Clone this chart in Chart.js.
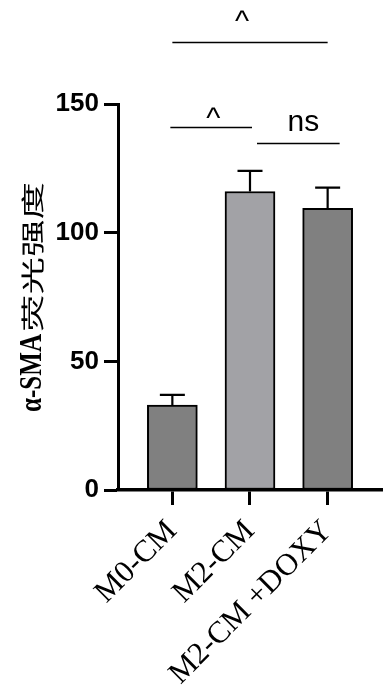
<!DOCTYPE html>
<html>
<head>
<meta charset="utf-8">
<script src="https://cdn.jsdelivr.net/npm/chart.js@4/dist/chart.umd.min.js"></script>
<style>
html,body{margin:0;padding:0;background:#fff;}
#wrap{width:386px;height:697px;position:relative;}
</style>
</head>
<body>
<div id="wrap"><canvas id="c" width="386" height="697"></canvas></div>
<script>
// ---- data ----
const categories = ['M0-CM', 'M2-CM', 'M2-CM +DOXY'];
const means = [33, 116, 109.5];
const errors = [4, 8, 8];
const yTicks = [0, 50, 100, 150];
const comparisons = [
  { from: 0, to: 1, label: '^' },
  { from: 1, to: 2, label: 'ns' },
  { from: 0, to: 2, label: '^' }
];
const bracketLevels = [141, 135, 174];
const yTitleLatin = 'α-SMA';
const yTitleCJK = '荧光强度';

// ---- styles ----
const barColors = ['#808080', '#a2a2a6', '#808080'];
const bracketNudge = [
  { x0: -2, x1: 2, tx: 2, ty: 0 },
  { x0: 7, x1: 12, tx: 5, ty: -13 },
  { x0: 0, x1: 0, tx: -8, ty: -12 }
];

const errorBarPlugin = {
  id: 'errorBars',
  afterDatasetsDraw(chart) {
    const ctx = chart.ctx, xs = chart.scales.x, ys = chart.scales.y;
    ctx.save();
    ctx.strokeStyle = '#000';
    ctx.lineWidth = 2.2;
    means.forEach((m, i) => {
      const x = xs.getPixelForValue(i);
      const yTop = ys.getPixelForValue(m + errors[i]);
      const yBar = ys.getPixelForValue(m);
      ctx.beginPath();
      ctx.moveTo(x, yBar); ctx.lineTo(x, yTop);
      ctx.moveTo(x - 12.5, yTop); ctx.lineTo(x + 12.5, yTop);
      ctx.stroke();
    });
    ctx.restore();
  }
};

const annotPlugin = {
  id: 'annot',
  afterDraw(chart) {
    const ctx = chart.ctx, xs = chart.scales.x, ys = chart.scales.y;
    ctx.save();
    comparisons.forEach((c, i) => {
      const n = bracketNudge[i];
      const x0 = xs.getPixelForValue(c.from) + n.x0;
      const x1 = xs.getPixelForValue(c.to) + n.x1;
      const y = Math.round(ys.getPixelForValue(bracketLevels[i])) + 0.5;
      ctx.strokeStyle = '#000';
      ctx.lineWidth = 1.6;
      ctx.beginPath(); ctx.moveTo(x0, y); ctx.lineTo(x1, y); ctx.stroke();
      ctx.fillStyle = '#000';
      ctx.font = '30px "Liberation Sans", Arial, sans-serif';
      ctx.textAlign = 'center';
      ctx.textBaseline = 'alphabetic';
      ctx.fillText(c.label, (x0 + x1) / 2 + n.tx, y + n.ty);
    });
    ctx.restore();

    // y title (stretched like the reference)
    ctx.save();
    const ca = chart.chartArea;
    const cy = (ca.top + ca.bottom) / 2;
    const f1 = 'bold 31px "Liberation Serif", "Times New Roman", serif';
    const f2 = '23px "Noto Sans CJK SC", sans-serif';
    const latinLen = 78, cjkLen = 152;
    ctx.fillStyle = '#000';
    ctx.translate(32, cy);
    ctx.rotate(-Math.PI / 2);
    ctx.textAlign = 'left';
    ctx.textBaseline = 'middle';
    const start = -(latinLen + cjkLen) / 2;
    ctx.font = f1; const w1 = ctx.measureText(yTitleLatin).width;
    ctx.save(); ctx.translate(start, 1); ctx.scale(latinLen / w1, 1); ctx.fillText(yTitleLatin, 0, 0); ctx.restore();
    ctx.font = f2; const w2 = ctx.measureText(yTitleCJK).width;
    ctx.save(); ctx.translate(start + latinLen + 2, 0); ctx.scale((cjkLen - 2) / w2, 1); ctx.fillText(yTitleCJK, 0, 0); ctx.restore();
    ctx.restore();
  }
};

new Chart(document.getElementById('c'), {
  type: 'bar',
  data: {
    datasets: [{
      data: means.map((v, i) => ({ x: i, y: v })),
      backgroundColor: barColors,
      borderColor: '#000',
      borderWidth: 2,
      borderSkipped: false,
      barThickness: 50
    }]
  },
  options: {
    responsive: false,
    animation: false,
    events: [],
    layout: { padding: { top: 104, right: 4, left: 0, bottom: 0 } },
    plugins: { legend: { display: false }, tooltip: { enabled: false } },
    scales: {
      x: {
        type: 'linear',
        min: -0.7,
        max: 2.7,
        offset: false,
        afterBuildTicks(s) { s.ticks = categories.map((_, i) => ({ value: i })); },
        afterFit(s) { s.height = 207; },
        border: { display: true, color: '#000', width: 3.5 },
        grid: { display: true, offset: false, drawOnChartArea: false, drawTicks: true, tickLength: 15, tickWidth: 3, color: '#000' },
        ticks: {
          autoSkip: false,
          maxRotation: 45,
          minRotation: 45,
          padding: 8,
          color: '#000',
          font: { family: '"Liberation Serif", "Times New Roman", serif', size: 31 },
          callback: (v) => categories[v]
        }
      },
      y: {
        min: 0,
        max: 150,
        afterBuildTicks(s) { s.ticks = yTicks.map(v => ({ value: v })); },
        afterFit(s) { s.width = 118; },
        border: { display: true, color: '#000', width: 3 },
        grid: { display: true, drawOnChartArea: false, drawTicks: true, tickLength: 14, tickWidth: 3, color: '#000' },
        ticks: {
          padding: 5,
          color: '#000',
          font: { family: '"Liberation Sans", Arial, sans-serif', size: 26, weight: 'bold' }
        }
      }
    }
  },
  plugins: [errorBarPlugin, annotPlugin]
});
</script>
</body>
</html>
